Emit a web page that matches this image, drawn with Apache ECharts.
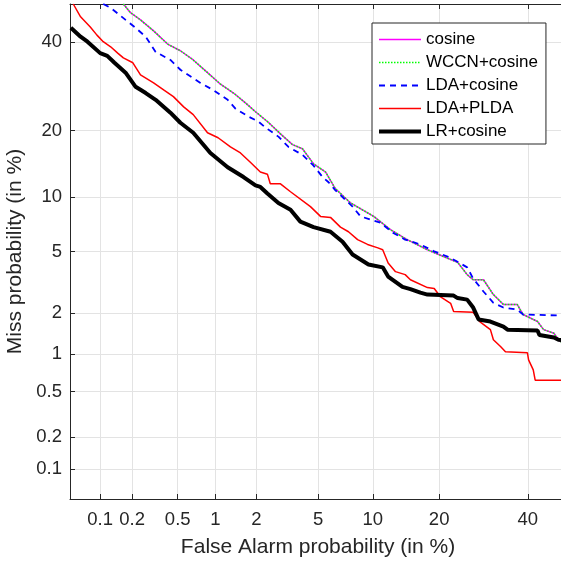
<!DOCTYPE html>
<html><head><meta charset="utf-8">
<script src="https://cdn.jsdelivr.net/npm/echarts@6/dist/echarts.min.js"></script>
<style>html,body{margin:0;padding:0;background:#fff}#c{width:561px;height:562px}</style>
</head><body><div id="c"></div>
<script>
// Tick labels (percent)
const tickLabels = [0.1, 0.2, 0.5, 1, 2, 5, 10, 20, 40];
const axisMinPct = 0.05, axisMaxPct = 50;
const seriesNames = ['cosine', 'WCCN+cosine', 'LDA+cosine', 'LDA+PLDA', 'LR+cosine'];

// [False alarm %, Miss %]
const cosine = [[0.166,50],[0.193,47.7],[0.238,45.8],[0.311,42.9],[0.415,39.4],[0.526,37.8],[0.67,35.5],[0.87,32.4],[1.095,29.7],[1.37,27.7],[1.68,25.5],[1.97,23.7],[2.41,21.6],[2.91,19.4],[3.48,17.5],[4.02,16.8],[4.70,14.4],[5.54,13.2],[6.29,11.0],[7.64,9.3],[10.1,7.9],[12.2,6.68],[14.6,5.86],[17.9,5.12],[20.8,4.66],[23.6,4.3],[25.6,3.6],[26.9,3.34],[29.2,3.34],[31.5,2.67],[33.9,2.29],[37.3,2.29],[38.8,1.95],[42.5,1.74],[44.1,1.52],[46.8,1.43],[48.0,1.28],[50,1.15]];
const wccn = [[0.166,50],[0.193,47.7],[0.238,45.8],[0.311,42.9],[0.415,39.4],[0.526,37.8],[0.67,35.5],[0.87,32.4],[1.095,29.7],[1.37,27.7],[1.68,25.5],[1.97,23.7],[2.41,21.6],[2.91,19.4],[3.48,17.5],[4.02,16.8],[4.70,14.4],[5.54,13.2],[6.29,11.0],[7.64,9.3],[10.1,7.9],[12.2,6.68],[14.6,5.86],[17.9,5.12],[20.8,4.66],[23.6,4.3],[25.6,3.6],[26.9,3.34],[29.2,3.34],[31.5,2.67],[33.9,2.29],[37.3,2.29],[38.8,1.95],[42.5,1.74],[44.1,1.52],[46.8,1.43],[48.0,1.28],[50,1.15]];
const ldaCosine = [[0.107,50],[0.126,49.0],[0.174,45.8],[0.215,43.7],[0.265,41.4],[0.324,37.5],[0.434,35.5],[0.526,33.1],[0.765,30.0],[0.96,28.4],[1.24,26.2],[1.42,24.3],[1.76,22.7],[2.07,21.7],[2.33,20.5],[2.82,18.9],[3.28,17.1],[4.02,15.8],[4.67,14.2],[5.32,12.5],[5.76,11.8],[6.29,10.8],[7.84,8.9],[8.64,7.9],[10.92,7.3],[12.6,6.4],[14.3,5.86],[16.7,5.5],[19.1,5.0],[21.6,4.66],[23.6,4.33],[25.6,4.0],[26.9,3.4],[29.2,2.8],[31.5,2.35],[33.9,2.18],[37.3,2.11],[38.8,1.95],[48.0,1.92],[50,1.83]];
const ldaPlda = [[0.054,50],[0.064,46.6],[0.080,43.9],[0.093,41.8],[0.107,40.1],[0.126,38.8],[0.147,37.2],[0.166,36.0],[0.203,34.8],[0.238,31.9],[0.311,30.0],[0.38,28.4],[0.46,26.9],[0.56,24.7],[0.67,23.1],[0.87,19.6],[1.05,18.7],[1.30,17.1],[1.54,16.1],[1.82,14.6],[2.13,13.2],[2.38,12.9],[2.49,11.6],[2.91,11.6],[3.38,10.6],[4.50,8.9],[5.17,7.9],[5.91,7.8],[6.73,6.9],[7.45,6.5],[8.34,5.86],[9.4,5.5],[10.6,5.25],[11.2,5.12],[11.9,4.26],[12.9,3.76],[14.3,3.6],[15.1,3.34],[17.9,2.97],[19.1,2.93],[20.2,2.59],[22.2,2.33],[22.8,2.05],[26.9,2.02],[28.5,1.72],[30.8,1.52],[31.5,1.28],[33.2,1.14],[34.4,1.04],[39.9,1.02],[40.2,0.90],[41.4,0.75],[41.9,0.62],[50,0.62]];
const lrCosine = [[0.051,43.7],[0.064,41.4],[0.075,40.1],[0.10,37.2],[0.117,36.5],[0.137,34.8],[0.174,32.4],[0.215,29.1],[0.265,27.7],[0.324,26.2],[0.434,23.5],[0.526,21.5],[0.67,19.6],[0.916,16.1],[1.24,13.9],[1.62,12.5],[1.97,11.4],[2.13,11.2],[2.38,10.4],[2.82,9.3],[3.38,8.58],[3.90,7.4],[4.70,6.9],[5.91,6.5],[6.91,5.7],[7.84,4.79],[9.5,4.17],[11.2,4.0],[11.9,3.5],[13.9,3.0],[15.1,2.9],[16.7,2.75],[17.9,2.67],[22.8,2.63],[23.6,2.53],[25.6,2.47],[26.9,2.18],[28.1,1.80],[30.8,1.74],[33.9,1.60],[34.9,1.52],[42.5,1.50],[43.0,1.39],[46.8,1.33],[48.0,1.28],[50,1.26]];

// inverse normal CDF (Acklam)
function probit(p){
  const a=[-3.969683028665376e+01,2.209460984245205e+02,-2.759285104469687e+02,1.383577518672690e+02,-3.066479806614716e+01,2.506628277459239e+00];
  const b=[-5.447609879822406e+01,1.615858368580409e+02,-1.556989798598866e+02,6.680131188771972e+01,-1.328068155288572e+01];
  const c=[-7.784894002430293e-03,-3.223964580411365e-01,-2.400758277161838e+00,-2.549732539343734e+00,4.374664141464968e+00,2.938163982698783e+00];
  const d=[7.784695709041462e-03,3.224671290700398e-01,2.445134137142996e+00,3.754408661907416e+00];
  const pl=0.02425;
  if(p<pl){const q=Math.sqrt(-2*Math.log(p));return (((((c[0]*q+c[1])*q+c[2])*q+c[3])*q+c[4])*q+c[5])/((((d[0]*q+d[1])*q+d[2])*q+d[3])*q+1);}
  if(p<=1-pl){const q=p-0.5,r=q*q;return (((((a[0]*r+a[1])*r+a[2])*r+a[3])*r+a[4])*r+a[5])*q/(((((b[0]*r+b[1])*r+b[2])*r+b[3])*r+b[4])*r+1);}
  const q=Math.sqrt(-2*Math.log(1-p));return -(((((c[0]*q+c[1])*q+c[2])*q+c[3])*q+c[4])*q+c[5])/((((d[0]*q+d[1])*q+d[2])*q+d[3])*q+1);
}
const pz = pct => probit(pct/100);
const conv = arr => arr.map(([x,y]) => [pz(x), pz(y)]);
const tickVals = tickLabels.map(pz);
const fmt = v => { let best=0, bd=1e9; tickVals.forEach((t,i)=>{const dd=Math.abs(t-v); if(dd<bd){bd=dd;best=i;}}); return String(tickLabels[best]); };

const txt = '#262626';
const fontFam = '"Liberation Sans", Arial, Helvetica, sans-serif';
const gridLine = {show:true, lineStyle:{color:'#e3e3e3', width:1}};
function mkAxis(pos, main, name, margin){
  const ax = {
    type:'value', position:pos, min:pz(axisMinPct), max:pz(axisMaxPct),
    axisLine:{show:true, onZero:false, lineStyle:{color:txt, width:1}},
    axisTick:{show:true, inside:true, length:5, customValues:tickVals, lineStyle:{color:txt}},
    axisLabel:{show:main, customValues:tickVals, formatter:fmt, color:txt, fontSize:18.5, fontFamily:fontFam, margin:margin||8},
    splitLine: main ? gridLine : {show:false}
  };
  if(main){ ax.name=name; ax.nameLocation='middle'; ax.nameTextStyle={color:txt, fontSize:21, fontFamily:fontFam}; }
  return ax;
}
const xA = mkAxis('bottom', true, 'False Alarm probability (in %)', 11); xA.nameGap = 38;
const xT = mkAxis('top', false);
const yA = mkAxis('left', true, 'Miss probability (in %)', 8); yA.nameGap = 43;
const yR = mkAxis('right', false);

const chart = echarts.init(document.getElementById('c'), null, {renderer:'canvas'});
const mk = (name, data, color, width, type, z) => ({
  name, type:'line', data:conv(data), showSymbol:false, symbol:'none', xAxisIndex:0, yAxisIndex:0,
  lineStyle:{color, width, type}, itemStyle:{color}, z, animation:false, clip:true
});
chart.setOption({
  animation:false,
  backgroundColor:'#fff',
  grid:{left:70, top:4, width:496, height:495, containLabel:false, outerBoundsMode:'none'},
  xAxis:[xA, xT],
  yAxis:[yA, yR],
  legend:{
    data:seriesNames, orient:'vertical', left:372, top:23, itemWidth:42, itemHeight:17, itemGap:6,
    padding:[8,8,4,5], backgroundColor:'#fff', borderColor:txt, borderWidth:1, borderRadius:0,
    itemStyle:{opacity:0, borderWidth:0, color:'rgba(0,0,0,0)'},
    lineStyle:{width:'inherit', type:'inherit', color:'inherit'},
    textStyle:{color:'#000', fontSize:17, fontFamily:fontFam}, selectedMode:false
  },
  series:[
    mk(seriesNames[0], cosine, '#ff00ff', 1.5, 'solid', 2),
    mk(seriesNames[1], wccn, '#00ff00', 1.5, [1.5,1.5], 3),
    mk(seriesNames[2], ldaCosine, '#0000ff', 1.8, [6,5], 4),
    mk(seriesNames[3], ldaPlda, '#ff0000', 1.5, 'solid', 5),
    mk(seriesNames[4], lrCosine, '#000000', 4, 'solid', 6)
  ]
});
</script></body></html>
